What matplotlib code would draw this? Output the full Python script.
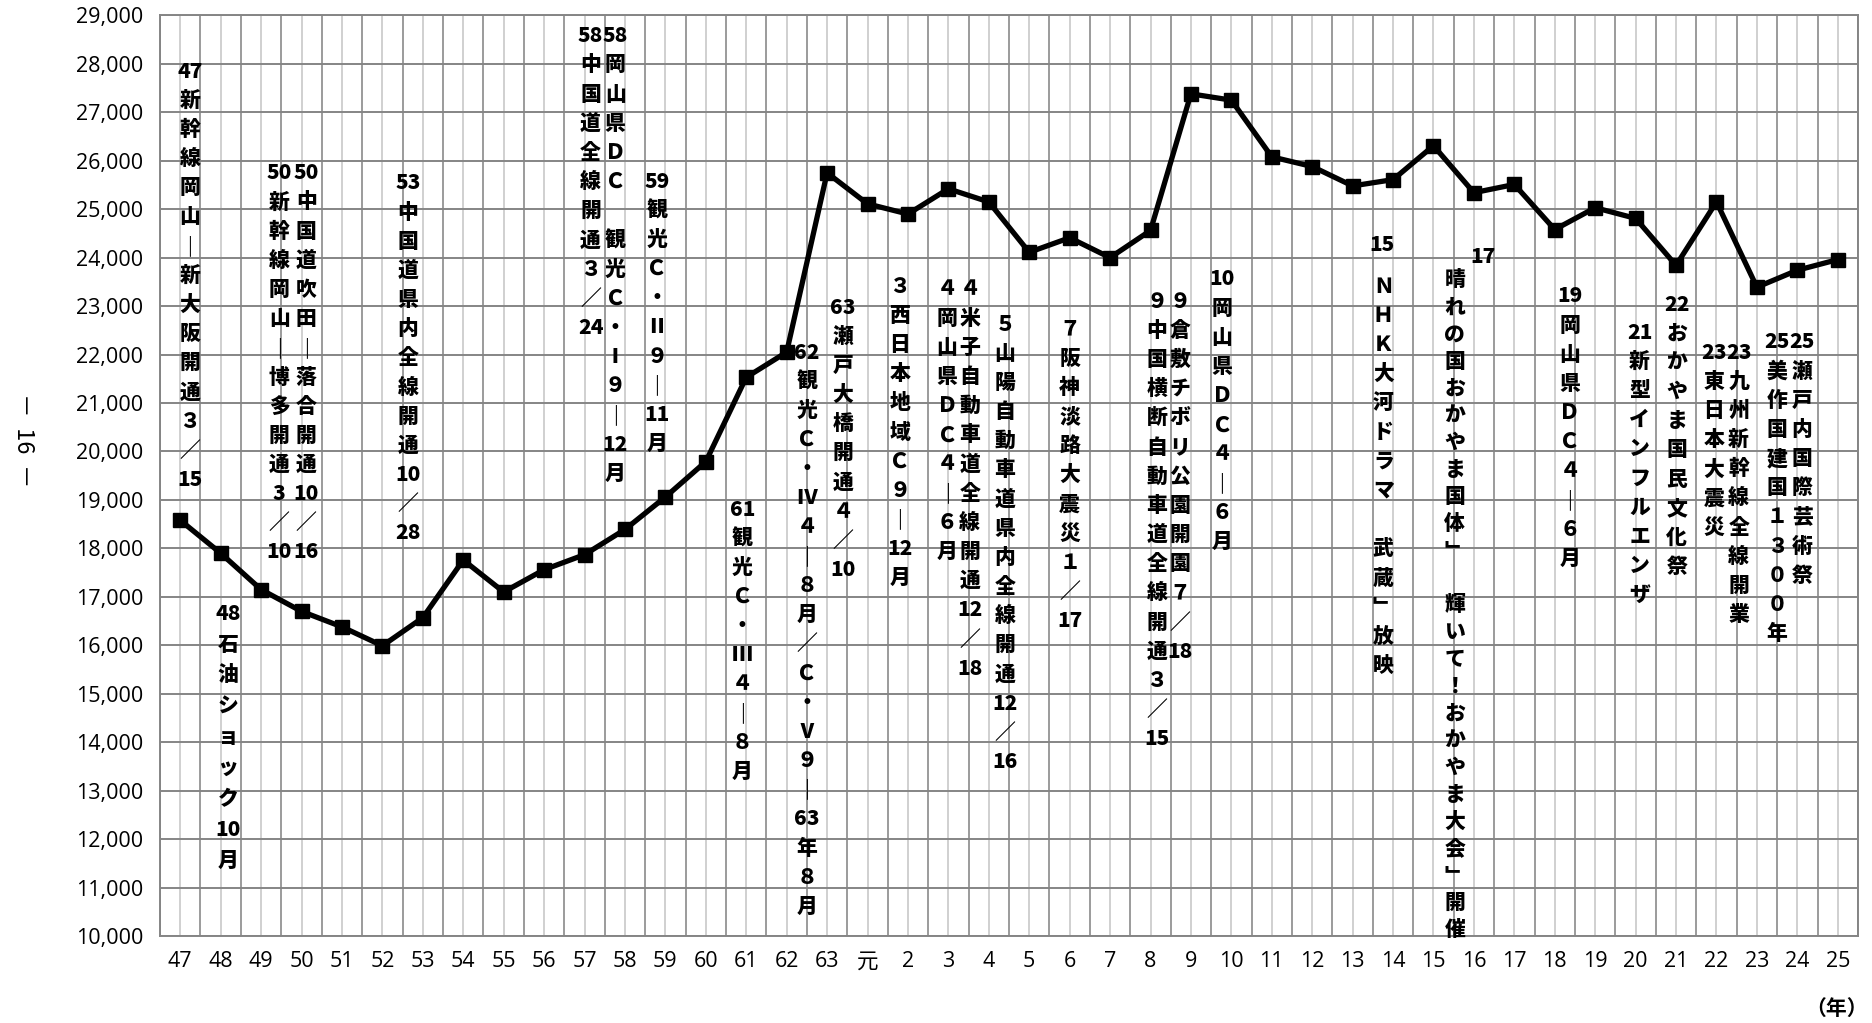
import re
import numpy as np
import matplotlib.pyplot as plt

plt.rcParams['font.family'] = ['Open Sans', 'Noto Sans CJK JP', 'DejaVu Sans']

# x categories: Showa 47-63, Heisei 元-25
years = [str(y) for y in range(47, 64)] + ['元'] + [str(y) for y in range(2, 26)]
visitors = [18580, 17900, 17150, 16700, 16380, 15990, 16570, 17760, 17100, 17560,
            17870, 18390, 19060, 19790, 21530, 22050, 25750, 25110, 24900, 25420,
            25150, 24110, 24410, 24000, 24560, 27380, 27250, 26080, 25880, 25480,
            25610, 26310, 25340, 25510, 24580, 25030, 24810, 23840, 25150, 23390,
            23740, 23960]

# event notes, written top to bottom (one cell per character, digit runs kept together)
notes = [
    '47新幹線岡山｜新大阪開通３／15',
    '48石油ショック10月',
    '50新幹線岡山｜博多開通3／10',
    '50中国道吹田｜落合開通10／16',
    '53中国道県内全線開通10／28',
    '58中国道全線開通３／24',
    '58岡山県ＤＣ　観光Ｃ・Ⅰ９｜12月',
    '59観光Ｃ・Ⅱ９｜11月',
    '61観光Ｃ・Ⅲ４｜８月',
    '62観光Ｃ・Ⅳ４｜８月／Ｃ・Ⅴ９｜63年８月',
    '63瀬戸大橋開通４／10',
    '３西日本地域Ｃ９｜12月',
    '４岡山県ＤＣ４｜６月',
    '４米子自動車道全線開通12／18',
    '５山陽自動車道県内全線開通12／16',
    '７阪神淡路大震災１／17',
    '９中国横断自動車道全線開通３／15',
    '９倉敷チボリ公園開園７／18',
    '10岡山県ＤＣ４｜６月',
    '15',
    'ＮＨＫ大河ドラマ　武蔵﹂放映',
    '17',
    '晴れの国おかやま国体﹂　輝いて！おかやま大会﹂開催',
    '19岡山県ＤＣ４｜６月',
    '21新型インフルエンザ',
    '22おかやま国民文化祭',
    '23東日本大震災',
    '23九州新幹線全線開業',
    '25美作国建国１３００年',
    '25瀬戸内国際芸術祭',
]
# where each note starts (category position, value of first cell centre)
note_x = [0.24, 1.18, 2.45, 3.12, 5.63, 10.15, 10.76, 11.79, 13.9, 15.5,
          16.39, 17.8, 18.97, 19.53, 20.4, 22.0, 24.16, 24.73, 25.77, 29.73,
          29.76, 32.22, 31.53, 34.37, 36.1, 37.02, 37.94, 38.55, 39.5, 40.12]
note_y = [27840, 16650, 25740, 25740, 25530, 28570, 28570, 25570, 18800, 22040,
          22970, 23400, 23340, 23340, 22620, 22520, 23090, 23090, 23550, 24270,
          23400, 24020, 23530, 23200, 22450, 23030, 22040, 22040, 22250, 22250]
# spacing between cells, points
note_pitch = [21.0] * len(notes)
note_pitch[1] = 22.2
note_pitch[22] = 19.5

fig = plt.figure(figsize=(18.72, 10.23), dpi=100)
ax = fig.add_axes([0.0855, 0.085, 0.907, 0.9])

x = np.arange(len(years))
ax.plot(x, visitors, color='black', lw=3.8, marker='s', ms=10, zorder=5)

ax.set_xlim(-0.5, len(years) - 0.5)
ax.set_ylim(10000, 29000)
ax.set_yticks(np.arange(10000, 29001, 1000))
ax.set_yticklabels([f'{v:,}' for v in range(10000, 29001, 1000)], fontsize=15.5)
ax.set_xticks(x)
ax.set_xticklabels(years, fontsize=15.5)
ax.set_xticks(np.arange(-0.5, len(years), 1), minor=True)
ax.tick_params(axis='both', which='both', length=0)
ax.tick_params(axis='y', pad=12)
ax.tick_params(axis='x', pad=11)

ax.grid(axis='y', which='major', color='#858585', lw=1.4)
ax.grid(axis='x', which='major', color='#c8c8c8', lw=1.2)
ax.grid(axis='x', which='minor', color='#8a8a8a', lw=1.2)
ax.set_axisbelow(True)
for s in ax.spines.values():
    s.set_color('#858585')
    s.set_linewidth(1.4)

for txt, nx, ny, p in zip(notes, note_x, note_y, note_pitch):
    cells = re.findall(r'[0-9]+|.', txt)
    for k, c in enumerate(cells):
        ax.annotate(c, xy=(nx, ny), xytext=(0, -k * p), textcoords='offset points',
                    ha='center', va='center', fontsize=15, fontweight='heavy',
                    family=['Noto Sans CJK JP', 'DejaVu Sans'], zorder=6)

fig.text(23 / 1872, 1 - 440 / 1023, '－  16  －', rotation=-90, ha='center', va='center',
         fontsize=17, family=['Noto Sans CJK JP', 'DejaVu Sans'])
fig.text(1868 / 1872, 1 - 1008 / 1023, '（年）', ha='right', va='center',
         fontsize=15, fontweight='bold', family=['Noto Sans CJK JP', 'DejaVu Sans'])

fig.savefig('out.png', dpi=100)
